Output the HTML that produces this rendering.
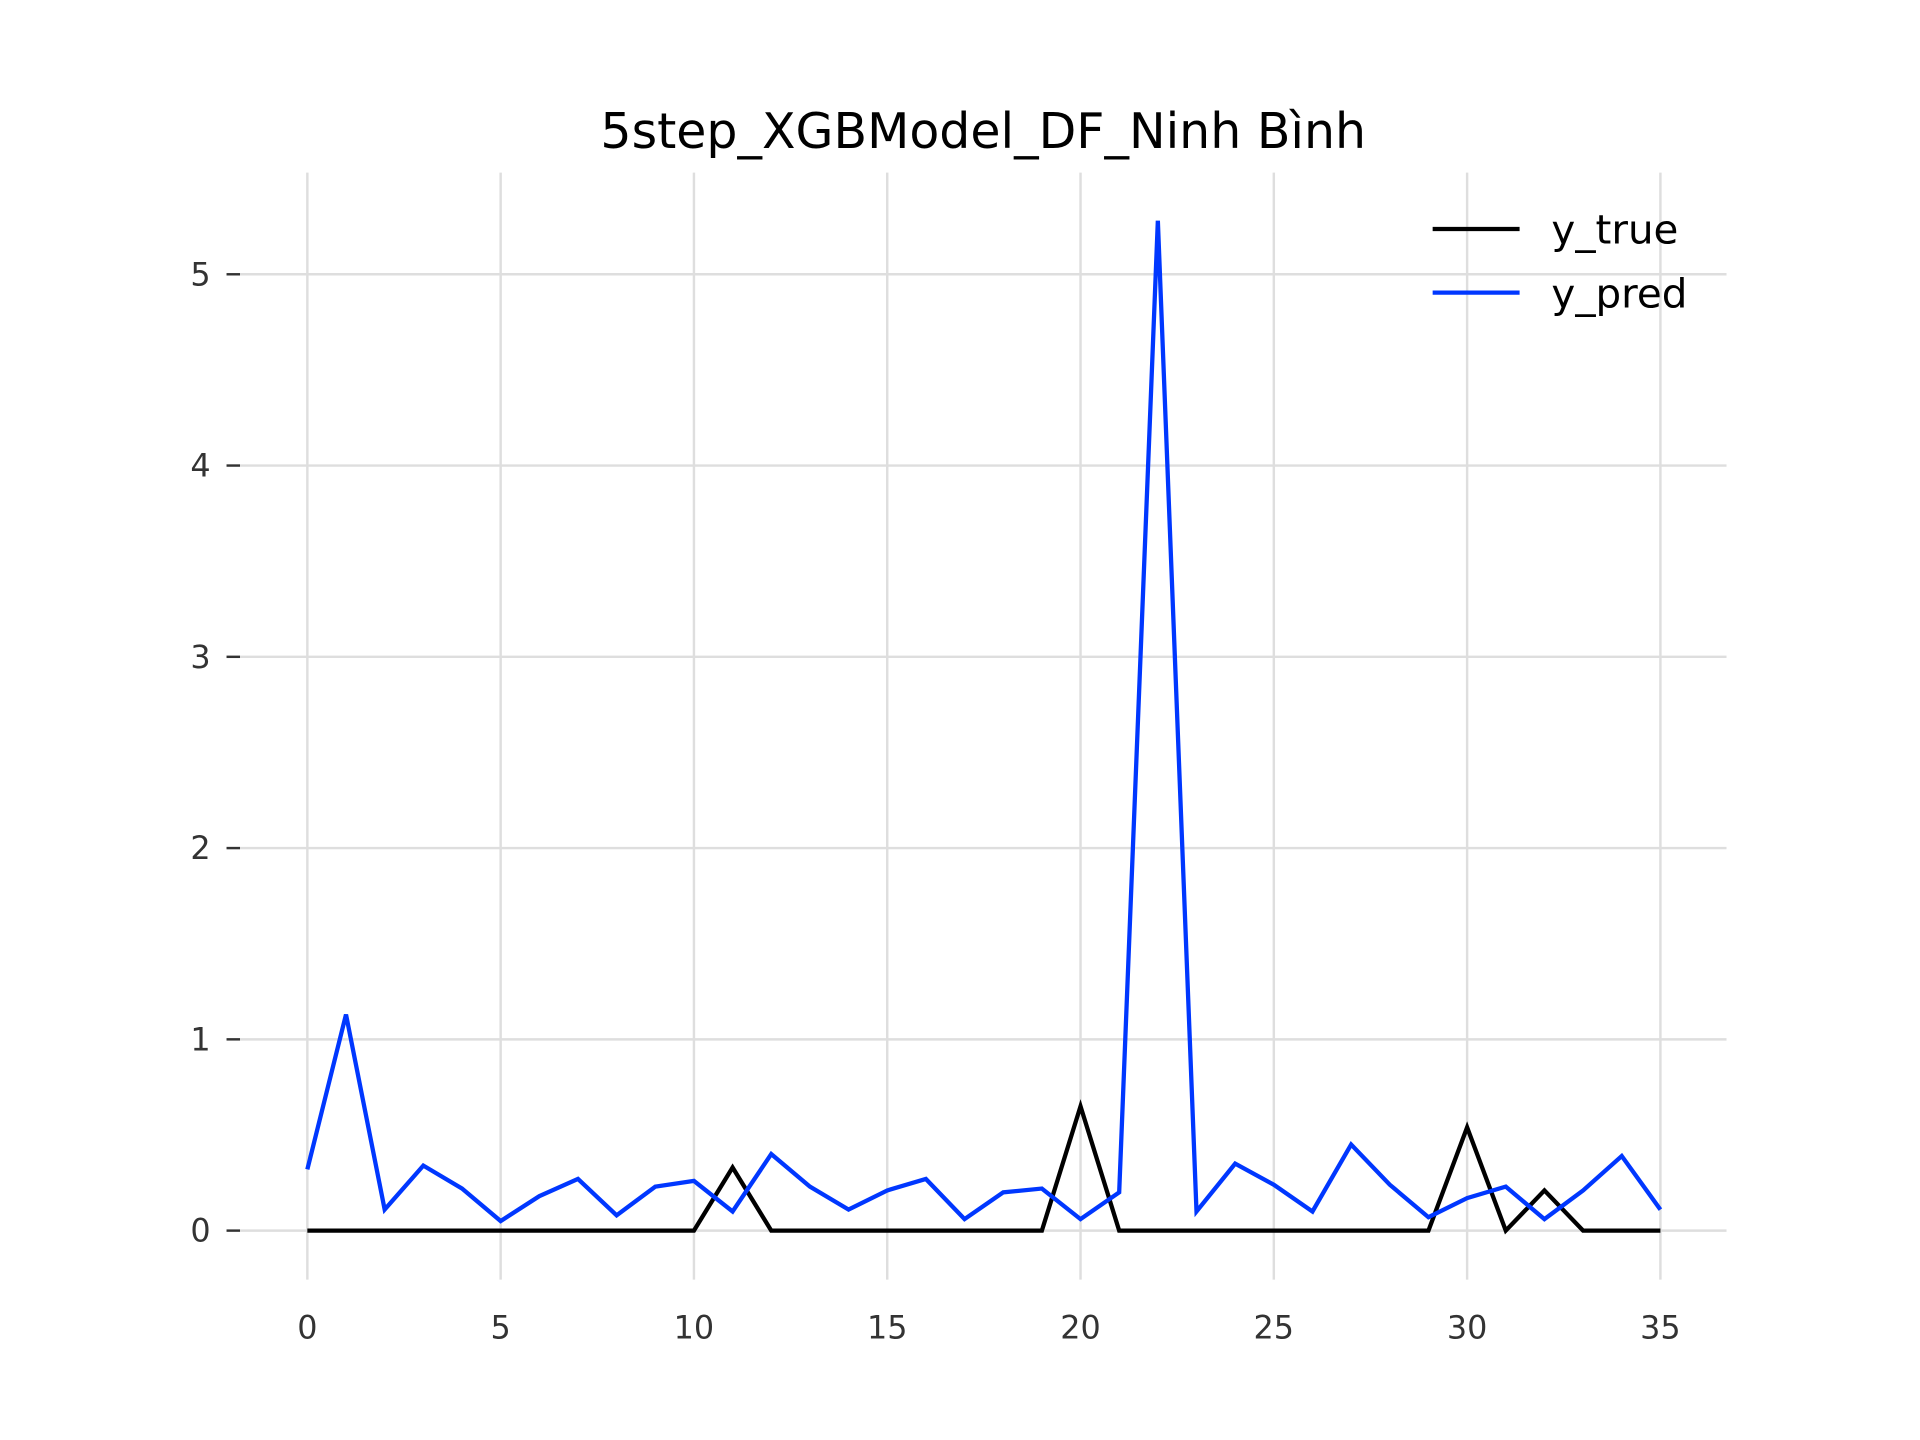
<!DOCTYPE html>
<html><head><meta charset="utf-8"><style>html,body{margin:0;padding:0;background:#fff}svg{display:block}</style></head>
<body>
<svg id="chart" width="1920" height="1440" viewBox="0 0 1568 1176" xmlns="http://www.w3.org/2000/svg" font-family="'DejaVu Sans','Liberation Sans',sans-serif">
<rect width="1568" height="1176" fill="#fff"/>
<text x="803" y="121" text-anchor="middle" font-size="40" fill="#000">5step_XGBModel_DF_Ninh Bình</text>
<g id="grid"></g><g id="axes"></g><g id="series"></g>
<g>
<line x1="1170" y1="187" x2="1241" y2="187" stroke="#000" stroke-width="3.5"/>
<text x="1267" y="199" font-size="33" fill="#000">y_true</text>
<line x1="1170" y1="239" x2="1241" y2="239" stroke="#0037ff" stroke-width="3.5"/>
<text x="1267" y="251" font-size="33" fill="#000">y_pred</text>
</g>
</svg>
<script>
const xTicks=[0,5,10,15,20,25,30,35];
const yTicks=[0,1,2,3,4,5];
const yTrue=[0,0,0,0,0,0,0,0,0,0,0,0.33,0,0,0,0,0,0,0,0,0.65,0,0,0,0,0,0,0,0,0,0.54,0,0.21,0,0,0];
const yPred=[0.32,1.13,0.11,0.34,0.22,0.05,0.18,0.27,0.08,0.23,0.26,0.10,0.40,0.23,0.11,0.21,0.27,0.06,0.20,0.22,0.06,0.20,5.28,0.10,0.35,0.24,0.10,0.45,0.24,0.07,0.17,0.23,0.06,0.21,0.39,0.11];
const NS='http://www.w3.org/2000/svg';
const sx=v=>251+v*(1356-251)/35;
const sy=v=>1005-v*(1005-224)/5;
function mk(tag,attrs,parent){const e=document.createElementNS(NS,tag);for(const k in attrs)e.setAttribute(k,attrs[k]);parent.appendChild(e);return e;}
const grid=document.getElementById('grid'),axes=document.getElementById('axes'),series=document.getElementById('series');
xTicks.forEach(t=>{
  const l=mk('line',{x1:sx(t),x2:sx(t),y1:141,y2:1045,stroke:'#dedede','stroke-width':2},grid);
  
  
  const tx=mk('text',{x:sx(t),y:1093,'text-anchor':'middle','font-size':26,fill:'#333'},axes);
  tx.textContent=t;
  
  
});
yTicks.forEach(t=>{
  const l=mk('line',{x1:196,x2:1410,y1:sy(t),y2:sy(t),stroke:'#dedede','stroke-width':2},grid);
  
  
  const m=mk('line',{x1:185,x2:196,y1:sy(t),y2:sy(t),stroke:'#333','stroke-width':2},axes);
  
  
  const tx=mk('text',{x:172,y:sy(t)+9,'text-anchor':'end','font-size':26,fill:'#333'},axes);
  tx.textContent=t;
  
  
});
function line(vals,color,name){
  const p=mk('polyline',{points:vals.map((v,i)=>sx(i)+','+sy(v)).join(' '),fill:'none',stroke:color,'stroke-width':3.5,'stroke-linejoin':'miter'},series);
  
  
}
line(yTrue,'#000','y-true-line');
line(yPred,'#0037ff','y-pred-line');
</script>
</body></html>
